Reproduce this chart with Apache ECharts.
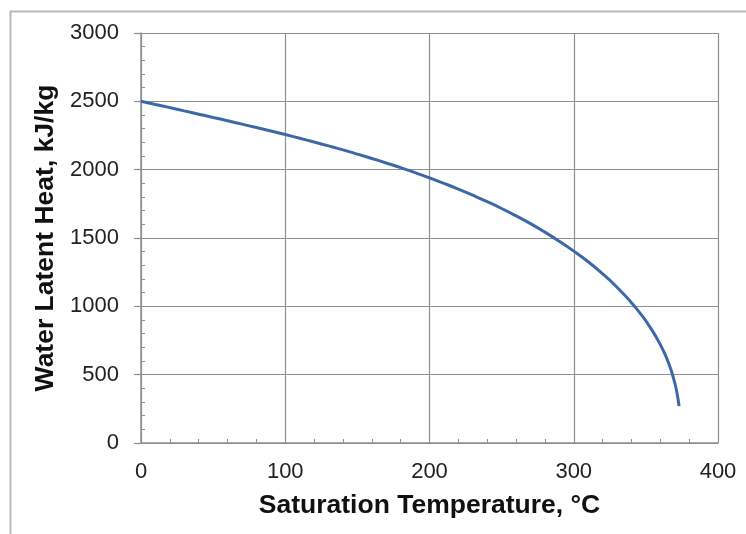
<!DOCTYPE html>
<html>
<head>
<meta charset="utf-8">
<script src="https://cdn.jsdelivr.net/npm/echarts@6/dist/echarts.min.js"></script>
<style>
html,body{margin:0;padding:0;background:#fff;}
#c{width:746px;height:534px;}
</style>
</head>
<body>
<div id="c"></div>
<script>
const temperatures = [0,10,20,30,40,50,60,70,80,90,100,110,120,130,140,150,160,170,180,190,200,210,220,230,240,250,260,270,280,290,300,310,320,330,340,345,350,355,360,363,366,368,370,371,372,373];
const latentHeat = [2501,2477,2454,2430,2406,2382,2358,2333,2308,2283,2257,2230,2202,2174,2145,2114,2082,2049,2015,1978,1940,1900,1858,1813,1766,1716,1662,1605,1543,1476,1404,1326,1238,1140,1027,963,893,813,720,655,578,516,441,395,340,270];
const xTitle = 'Saturation Temperature, °C';
const yTitle = 'Water Latent Heat, kJ/kg';

const chart = echarts.init(document.getElementById('c'), null, {renderer:'canvas'});
const font = 'Liberation Sans, Arial, sans-serif';
const gridColor = '#8f8f8f';
chart.setOption({
  animation:false,
  backgroundColor:'#fff',
  graphic:[{type:'rect', shape:{x:10.5,y:11.5,width:800,height:600}, style:{fill:'none', stroke:'#b8b8b8', lineWidth:2}, z:-1}],
  grid:{left:141, right:28, top:33, bottom:91, containLabel:false},
  xAxis:[{
    type:'value', min:0, max:400, interval:100,
    name:xTitle, nameLocation:'middle', nameGap:49,
    nameTextStyle:{fontFamily:font, fontWeight:'bold', fontSize:26.5, color:'#111'},
    axisLine:{show:true, onZero:false, lineStyle:{color:gridColor, width:1.5}},
    axisTick:{show:false, inside:true},
    minorTick:{show:true, splitNumber:5, length:4, lineStyle:{color:gridColor, width:1}},
    axisLabel:{fontFamily:font, fontSize:22, color:'#222', margin:18, formatter:v=>String(v)},
    splitLine:{show:true, lineStyle:{color:gridColor, width:1.2}}
  }],
  yAxis:[{
    type:'value', min:0, max:3000, interval:500,
    name:yTitle, nameLocation:'middle', nameGap:76, nameRotate:90,
    nameTextStyle:{fontFamily:font, fontWeight:'bold', fontSize:26.5, color:'#111'},
    axisLine:{show:true, lineStyle:{color:gridColor, width:1.5}},
    axisTick:{show:true, inside:false, length:7, lineStyle:{color:gridColor, width:1.2}},
    axisLabel:{fontFamily:font, fontSize:22, color:'#222', margin:22, formatter:v=>String(v)},
    splitLine:{show:true, lineStyle:{color:gridColor, width:1.2}}
  },{
    type:'value', min:0, max:3000, interval:500, position:'left',
    axisLine:{show:false}, axisLabel:{show:false}, splitLine:{show:false},
    axisTick:{show:false, inside:true},
    minorTick:{show:true, splitNumber:5, length:4, lineStyle:{color:gridColor, width:1}}
  }],
  series:[{
    type:'line', smooth:true, showSymbol:false,
    data: temperatures.map((t,i)=>[t, latentHeat[i]]),
    lineStyle:{color:'#3d68a8', width:3}
  }]
});
</script>
</body>
</html>
